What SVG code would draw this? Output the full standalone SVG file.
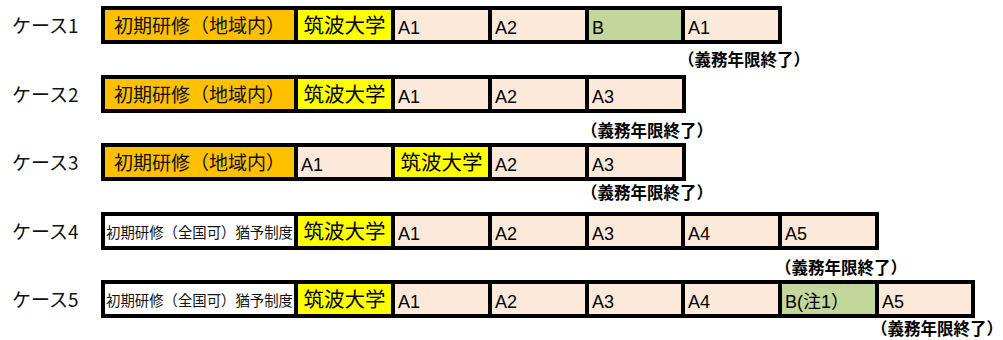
<svg xmlns="http://www.w3.org/2000/svg" width="1003" height="340" viewBox="0 0 1003 340">
<style>
.frame{fill:#000}
.or{fill:#FFC000}
.ye{fill:#FFFF00}
.pe{fill:#FDE9D9}
.gr{fill:#C4D79B}
.wh{fill:#FFFFFF}
.case{font-family:"Noto Sans CJK JP","Noto Sans",sans-serif;font-size:19px;fill:#111}
.jp{font-family:"Noto Sans CJK JP",sans-serif;font-size:19px;fill:#111}
.uni{font-family:"Noto Sans CJK JP",sans-serif;font-size:20.5px;fill:#000}
.sm{font-family:"Noto Sans CJK JP",sans-serif;font-size:15px;fill:#111}
.a{font-family:"Liberation Sans","Noto Sans CJK JP",sans-serif;font-size:18px;fill:#000}
.end{font-family:"Noto Sans CJK JP",sans-serif;font-size:16.5px;font-weight:bold;fill:#000}
</style>

<g id="labels">
<text class="case" x="12" y="33">ケース1</text>
<text class="case" x="12" y="102">ケース2</text>
<text class="case" x="12" y="170">ケース3</text>
<text class="case" x="12" y="239">ケース4</text>
<text class="case" x="12" y="307">ケース5</text>
</g>

<g id="case1" transform="translate(0,6)">
<rect class="frame" x="101" y="0" width="681" height="38"/>
<g id="c1-kenshu"><rect class="or" x="105" y="4" width="189" height="30"/><text class="jp" x="199.5" y="27" text-anchor="middle">初期研修（地域内）</text></g>
<g id="c1-tsukuba"><rect class="ye" x="298" y="4" width="93" height="30"/><text class="uni" x="344.5" y="27" text-anchor="middle">筑波大学</text></g>
<g id="c1-a1"><rect class="pe" x="395" y="4" width="93" height="30"/><text class="a" x="398" y="27.5">A1</text></g>
<g id="c1-a2"><rect class="pe" x="492" y="4" width="93" height="30"/><text class="a" x="495" y="27.5">A2</text></g>
<g id="c1-b"><rect class="gr" x="589" y="4" width="92" height="30"/><text class="a" x="592" y="27.5">B</text></g>
<g id="c1-a1b"><rect class="pe" x="685" y="4" width="93" height="30"/><text class="a" x="688" y="27.5">A1</text></g>
<text class="end" x="678" y="60">（義務年限終了）</text>
</g>

<g id="case2" transform="translate(0,75)">
<rect class="frame" x="101" y="0" width="585" height="38"/>
<g id="c2-kenshu"><rect class="or" x="105" y="4" width="189" height="30"/><text class="jp" x="199.5" y="27" text-anchor="middle">初期研修（地域内）</text></g>
<g id="c2-tsukuba"><rect class="ye" x="298" y="4" width="93" height="30"/><text class="uni" x="344.5" y="27" text-anchor="middle">筑波大学</text></g>
<g id="c2-a1"><rect class="pe" x="395" y="4" width="93" height="30"/><text class="a" x="398" y="27.5">A1</text></g>
<g id="c2-a2"><rect class="pe" x="492" y="4" width="93" height="30"/><text class="a" x="495" y="27.5">A2</text></g>
<g id="c2-a3"><rect class="pe" x="589" y="4" width="93" height="30"/><text class="a" x="592" y="27.5">A3</text></g>
<text class="end" x="581" y="62">（義務年限終了）</text>
</g>

<g id="case3" transform="translate(0,143)">
<rect class="frame" x="101" y="0" width="585" height="38"/>
<g id="c3-kenshu"><rect class="or" x="105" y="4" width="189" height="30"/><text class="jp" x="199.5" y="27" text-anchor="middle">初期研修（地域内）</text></g>
<g id="c3-a1"><rect class="pe" x="298" y="4" width="93" height="30"/><text class="a" x="301" y="27.5">A1</text></g>
<g id="c3-tsukuba"><rect class="ye" x="395" y="4" width="93" height="30"/><text class="uni" x="441.5" y="27" text-anchor="middle">筑波大学</text></g>
<g id="c3-a2"><rect class="pe" x="492" y="4" width="93" height="30"/><text class="a" x="495" y="27.5">A2</text></g>
<g id="c3-a3"><rect class="pe" x="589" y="4" width="93" height="30"/><text class="a" x="592" y="27.5">A3</text></g>
<text class="end" x="581" y="56">（義務年限終了）</text>
</g>

<g id="case4" transform="translate(0,212)">
<rect class="frame" x="101" y="0" width="778" height="38"/>
<g id="c4-kenshu"><rect class="wh" x="105" y="4" width="189" height="30"/><text class="sm" x="106" y="26" textLength="187" lengthAdjust="spacingAndGlyphs">初期研修（全国可）猶予制度</text></g>
<g id="c4-tsukuba"><rect class="ye" x="298" y="4" width="93" height="30"/><text class="uni" x="344.5" y="27" text-anchor="middle">筑波大学</text></g>
<g id="c4-a1"><rect class="pe" x="395" y="4" width="93" height="30"/><text class="a" x="398" y="27.5">A1</text></g>
<g id="c4-a2"><rect class="pe" x="492" y="4" width="93" height="30"/><text class="a" x="495" y="27.5">A2</text></g>
<g id="c4-a3"><rect class="pe" x="589" y="4" width="92" height="30"/><text class="a" x="592" y="27.5">A3</text></g>
<g id="c4-a4"><rect class="pe" x="685" y="4" width="93" height="30"/><text class="a" x="688" y="27.5">A4</text></g>
<g id="c4-a5"><rect class="pe" x="782" y="4" width="93" height="30"/><text class="a" x="785" y="27.5">A5</text></g>
<text class="end" x="775" y="62">（義務年限終了）</text>
</g>

<g id="case5" transform="translate(0,280)">
<rect class="frame" x="101" y="0" width="874" height="38"/>
<g id="c5-kenshu"><rect class="wh" x="105" y="4" width="189" height="30"/><text class="sm" x="106" y="26" textLength="187" lengthAdjust="spacingAndGlyphs">初期研修（全国可）猶予制度</text></g>
<g id="c5-tsukuba"><rect class="ye" x="298" y="4" width="93" height="30"/><text class="uni" x="344.5" y="27" text-anchor="middle">筑波大学</text></g>
<g id="c5-a1"><rect class="pe" x="395" y="4" width="93" height="30"/><text class="a" x="398" y="27.5">A1</text></g>
<g id="c5-a2"><rect class="pe" x="492" y="4" width="93" height="30"/><text class="a" x="495" y="27.5">A2</text></g>
<g id="c5-a3"><rect class="pe" x="589" y="4" width="92" height="30"/><text class="a" x="592" y="27.5">A3</text></g>
<g id="c5-a4"><rect class="pe" x="685" y="4" width="93" height="30"/><text class="a" x="688" y="27.5">A4</text></g>
<g id="c5-b"><rect class="gr" x="782" y="4" width="93" height="30"/><text class="a" x="785" y="27.5">B(注1）</text></g>
<g id="c5-a5"><rect class="pe" x="879" y="4" width="92" height="30"/><text class="a" x="882" y="27.5">A5</text></g>
<text class="end" x="871" y="55">（義務年限終了）</text>
</g>
</svg>
